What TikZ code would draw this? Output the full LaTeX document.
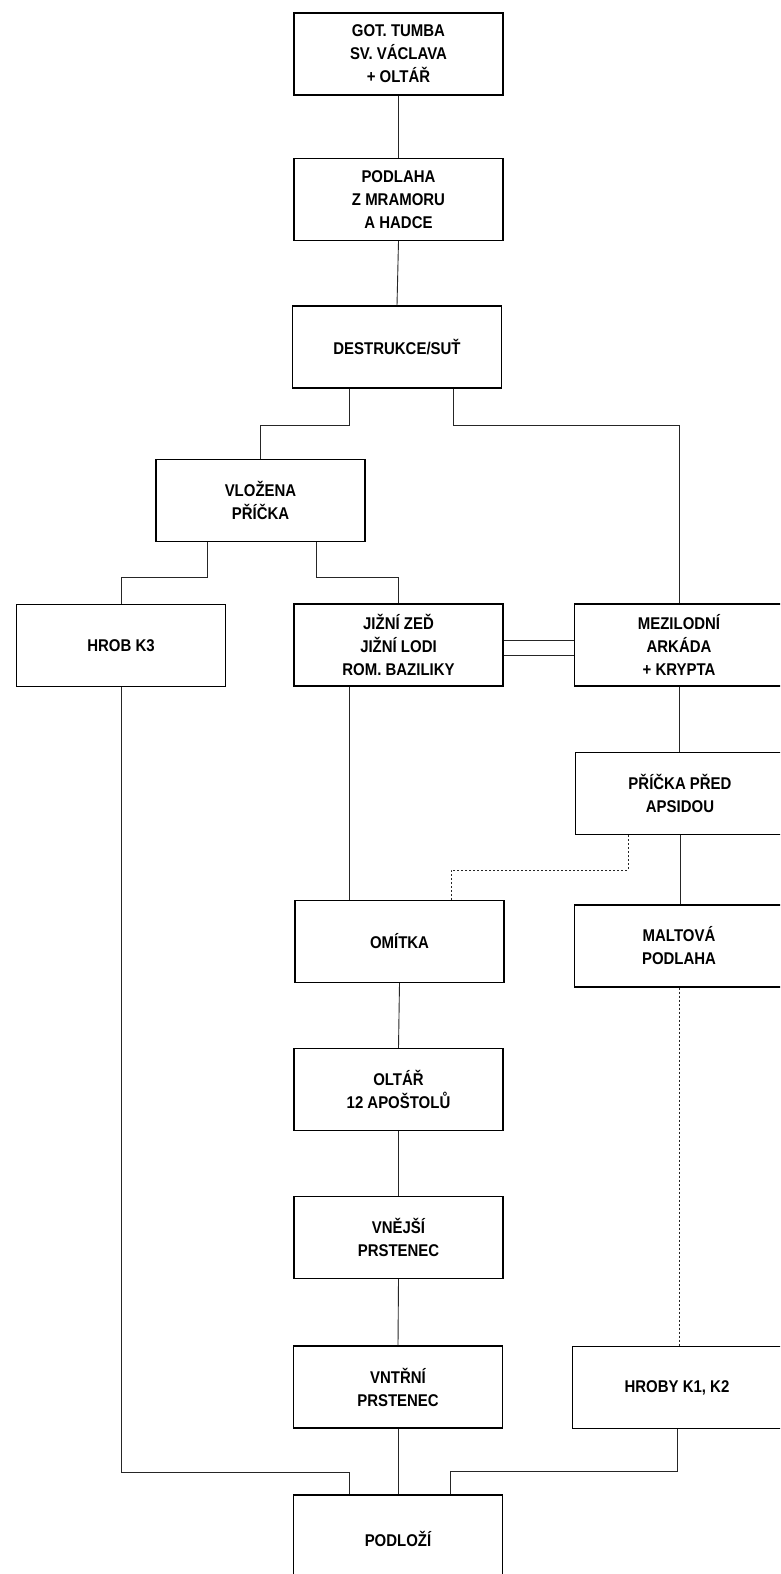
\documentclass[tikz,border=0pt]{standalone}
\usepackage{fontspec}
\newfontfamily\lab{Liberation Sans}[FakeStretch=0.88]
\tikzset{
  box/.style={draw=black, line width=1.4pt, minimum width=209pt, minimum height=82pt, inner sep=0pt, align=center, font=\lab\bfseries\fontsize{17}{23}\selectfont},
  link/.style={draw=black!85, line width=0.9pt},
  dotlink/.style={draw=black!85, line width=0.9pt, dash pattern=on 2pt off 2pt}
}
\begin{document}
\begin{tikzpicture}[x=1pt,y=-1pt]
\useasboundingbox (0,0) rectangle (780,1574);
\clip (0,0) rectangle (780,1574);
\fill[white] (0,0) rectangle (780,1574);
% boxes
\node[box] (A) at (398.5,54) {GOT. TUMBA\\SV. VÁCLAVA\\+ OLTÁŘ};
\node[box] (B) at (398.5,199.5) {PODLAHA\\Z MRAMORU\\A HADCE};
\node[box] (C) at (397,347) {DESTRUKCE/SUŤ};
\node[box] (D) at (260.5,500.5) {VLOŽENA\\PŘÍČKA};
\node[box] (E) at (121,645.5) {HROB K3};
\node[box] (F) at (398.5,645) {JIŽNÍ ZEĎ\\JIŽNÍ LODI\\ROM. BAZILIKY};
\node[box] (G) at (679,645) {MEZILODNÍ\\ARKÁDA\\+ KRYPTA};
\node[box] (H) at (680,793.5) {PŘÍČKA PŘED\\APSIDOU};
\node[box] (I) at (399.5,941.5) {OMÍTKA};
\node[box] (J) at (679,946) {MALTOVÁ\\PODLAHA};
\node[box] (K) at (398.5,1089.5) {OLTÁŘ\\12 APOŠTOLŮ};
\node[box] (L) at (398.5,1237.5) {VNĚJŠÍ\\PRSTENEC};
\node[box] (M) at (398,1387) {VNTŘNÍ\\PRSTENEC};
\node[box] (N) at (677,1387.5) {HROBY K1, K2};
\node[box, minimum height=88pt] (P) at (398,1539) {PODLOŽÍ};
% connectors
\draw[link] (A.south) -- (B.north);
\draw[link] (B.south) -- (C.north);
\draw[link] ([xshift=-48pt]C.south) -- ++(0,37) -| (D.north);
\draw[link] ([xshift=56pt]C.south) -- ++(0,37) -| (G.north);
\draw[link] ([xshift=-53.5pt]D.south) -- ++(0,35) -| (E.north);
\draw[link] ([xshift=56pt]D.south) -- ++(0,35) -| (F.north);
\draw[link] ([yshift=5pt]F.east) -- ([yshift=5pt]G.west);
\draw[link] ([yshift=-10pt]F.east) -- ([yshift=-10pt]G.west);
\draw[link] ([xshift=-49.5pt]F.south) -- ([xshift=-49.5pt]F.south |- I.north);
\draw[link] (G.south) -- (G.south |- H.north);
\draw[dotlink] ([xshift=-52pt]H.south) -- ++(0,35) -| ([xshift=51.5pt]I.north);
\draw[link] (H.south) -- (H.south |- J.north);
\draw[dotlink] (J.south) -- (J.south |- N.north);
\draw[link] (I.south) -- (K.north);
\draw[link] (K.south) -- (L.north);
\draw[link] (L.south) -- (M.north);
\draw[link] (M.south) -- (P.north);
\draw[link] (E.south) -- ++(0,785.5) -| ([xshift=-49pt]P.north);
\draw[link] (N.south) -- ++(0,42.5) -| ([xshift=52.5pt]P.north);
\end{tikzpicture}
\end{document}
